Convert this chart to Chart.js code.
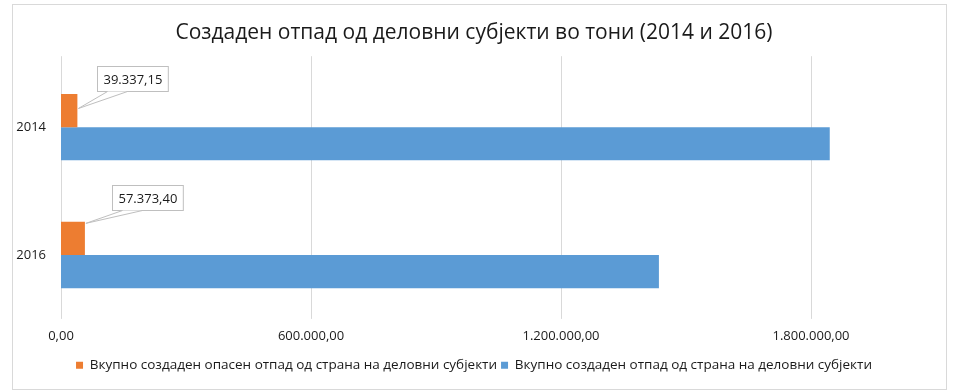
<!DOCTYPE html>
<html>
<head>
<meta charset="utf-8">
<script src="https://cdn.jsdelivr.net/npm/chart.js@4.4.1/dist/chart.umd.min.js"></script>
<style>
    html, body { margin: 0; padding: 0; background: #fff; }
    #wrap { position: relative; width: 954px; height: 392px; }
</style>
</head>
<body>
<div id="wrap"><canvas id="waste-chart" width="954" height="392"></canvas></div>
<script>
    // Data
    var years = ['2014', '2016'];
    var hazardousWaste = [39337.15, 57373.40];
    var totalWaste = [1845000, 1435000];
    var xTicks = [0, 600000, 1200000, 1800000];
    var seriesNames = [
        'Вкупно создаден опасен отпад од страна на деловни субјекти',
        'Вкупно создаден отпад од страна на деловни субјекти'
    ];

    var FONT = '"Open Sans", "Liberation Sans", sans-serif';

    // 1.800.000,00 style numbers
    function formatMk(v) {
        var parts = Number(v).toFixed(2).split('.');
        var intPart = parts[0].replace(/\B(?=(\d{3})+(?!\d))/g, '.');
        return intPart + ',' + parts[1];
    }

    // Frame around the picture + vertical gridlines (plot area starts a bit above the bars)
    var framePlugin = {
        id: 'frame',
        beforeDraw: function (chart) {
            var ctx = chart.ctx;
            ctx.save();
            ctx.fillStyle = '#fff';
            ctx.fillRect(0, 0, chart.width, chart.height);
            ctx.strokeStyle = '#d9d9d9';
            ctx.lineWidth = 1;
            ctx.strokeRect(12.5, 4.5, 934, 385);
            ctx.restore();
        },
        beforeDatasetsDraw: function (chart) {
            var ctx = chart.ctx;
            var xs = chart.scales.x;
            var area = chart.chartArea;
            ctx.save();
            ctx.strokeStyle = '#d9d9d9';
            ctx.lineWidth = 1;
            xTicks.forEach(function (v) {
                var px = Math.round(xs.getPixelForValue(v)) + 0.5;
                ctx.beginPath();
                ctx.moveTo(px, area.top - 7);
                ctx.lineTo(px, area.bottom);
                ctx.stroke();
            });
            ctx.restore();
        }
    };

    // Callout labels on the hazardous series (box placement as dragged in the original)
    var calloutPlugin = {
        id: 'callouts',
        afterDatasetsDraw: function (chart, args, opts) {
            var ctx = chart.ctx;
            var meta = chart.getDatasetMeta(0);
            ctx.save();
            ctx.font = '13px ' + FONT;
            meta.data.forEach(function (bar, i) {
                var place = opts.placement[i];
                var text = formatMk(hazardousWaste[i]);
                var w = ctx.measureText(text).width + 12;
                var h = 25;
                var bx = Math.round(bar.x + place.dx) + 0.5;
                var by = Math.round(bar.y + place.dy) + 0.5;
                var tipX = bar.x + 1;
                var tipY = bar.y + place.tipDy;

                ctx.fillStyle = '#fff';
                ctx.strokeStyle = '#bfbfbf';
                ctx.lineWidth = 1;
                ctx.fillRect(bx, by, w, h);
                ctx.strokeRect(bx, by, w, h);

                // pointer
                ctx.beginPath();
                ctx.moveTo(bx + 10, by + h);
                ctx.lineTo(tipX, tipY);
                ctx.lineTo(bx + 30, by + h);
                ctx.closePath();
                ctx.fill();
                ctx.beginPath();
                ctx.moveTo(bx + 10, by + h);
                ctx.lineTo(tipX, tipY);
                ctx.lineTo(bx + 30, by + h);
                ctx.stroke();

                ctx.fillStyle = '#1a1a1a';
                ctx.textAlign = 'center';
                ctx.textBaseline = 'middle';
                ctx.fillText(text, bx + w / 2, by + h / 2 + 1);
            });
            ctx.restore();
        }
    };

    var ctx = document.getElementById('waste-chart').getContext('2d');
    var chart = new Chart(ctx, {
        type: 'bar',
        data: {
            labels: years,
            datasets: [{
                label: seriesNames[0],
                data: hazardousWaste,
                backgroundColor: '#ED7D31',
                categoryPercentage: 0.52,
                barPercentage: 1.0
            }, {
                label: seriesNames[1],
                data: totalWaste,
                backgroundColor: '#5B9BD5',
                categoryPercentage: 0.52,
                barPercentage: 1.0
            }]
        },
        options: {
            indexAxis: 'y',
            responsive: false,
            animation: false,
            layout: {
                padding: { left: 12, right: 18, top: 0, bottom: 10 }
            },
            scales: {
                x: {
                    min: 0,
                    max: 2100000,
                    afterBuildTicks: function (scale) {
                        scale.ticks = xTicks.map(function (v) { return { value: v }; });
                    },
                    ticks: {
                        color: '#1a1a1a',
                        font: { family: FONT, size: 13 },
                        padding: 10,
                        maxRotation: 0,
                        callback: function (v) { return formatMk(v); }
                    },
                    grid: { display: false, drawTicks: false },
                    border: { display: false }
                },
                y: {
                    afterFit: function (scale) { scale.width = 49; },
                    ticks: {
                        color: '#1a1a1a',
                        font: { family: FONT, size: 13 },
                        padding: 15
                    },
                    grid: { display: false, drawTicks: false },
                    border: { display: false }
                }
            },
            plugins: {
                title: {
                    display: true,
                    text: 'Создаден отпад од деловни субјекти во тони (2014 и 2016)',
                    color: '#1a1a1a',
                    font: { family: FONT, size: 21, weight: 'normal' },
                    padding: { top: 20, bottom: 18 }
                },
                legend: {
                    position: 'bottom',
                    labels: {
                        color: '#1a1a1a',
                        font: { family: FONT, size: 13.5 },
                        boxWidth: 7,
                        boxHeight: 7,
                        padding: 4
                    }
                },
                callouts: {
                    placement: [
                        { dx: 20, dy: -45, tipDy: -2 },
                        { dx: 27, dy: -53, tipDy: -15 }
                    ]
                },
                tooltip: { enabled: false }
            }
        },
        plugins: [framePlugin, calloutPlugin]
    });
</script>
</body>
</html>
